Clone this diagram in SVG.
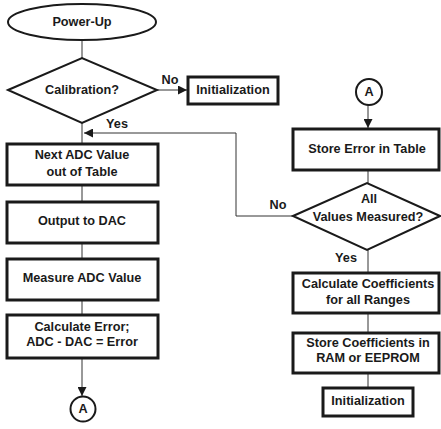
<svg xmlns="http://www.w3.org/2000/svg" width="441" height="429" viewBox="0 0 441 429">
<style>
text{font-family:"Liberation Sans",Arial,sans-serif;font-weight:bold;font-size:12.7px;fill:#1a1a1a;text-anchor:middle}
.box{fill:#fff;stroke:#1a1a1a;stroke-width:3}
.shape{fill:#fff;stroke:#1a1a1a;stroke-width:2}
.line{fill:none;stroke:#333;stroke-width:1}
</style>
<defs>
<marker id="ah" viewBox="0 0 10 10" refX="10" refY="5" markerWidth="9" markerHeight="9" markerUnits="userSpaceOnUse" orient="auto">
<path d="M0,0 L10,5 L0,10 z" fill="#1a1a1a"/>
</marker>
</defs>
<g id="connectors">
<line class="line" x1="82" y1="41" x2="82" y2="58"/>
<line class="line" x1="157" y1="90" x2="187" y2="90" marker-end="url(#ah)"/>
<line class="line" x1="82" y1="123" x2="82" y2="144"/>
<polyline class="line" points="293,216 236,216 236,133 84,133" marker-end="url(#ah)"/>
<line class="line" x1="82" y1="185" x2="82" y2="202"/>
<line class="line" x1="82" y1="243" x2="82" y2="259"/>
<line class="line" x1="82" y1="300" x2="82" y2="315"/>
<line class="line" x1="82" y1="358" x2="82" y2="396" marker-end="url(#ah)"/>
<line class="line" x1="368" y1="105" x2="368" y2="128" marker-end="url(#ah)"/>
<line class="line" x1="368" y1="170" x2="368" y2="183"/>
<line class="line" x1="368" y1="250" x2="368" y2="273"/>
<line class="line" x1="368" y1="313" x2="368" y2="333"/>
<line class="line" x1="368" y1="373" x2="368" y2="388"/>
<text x="170" y="84">No</text>
<text x="117" y="128">Yes</text>
<text x="278" y="209">No</text>
<text x="346" y="262">Yes</text>
</g>
<g id="power-up">
<ellipse class="shape" cx="82" cy="22" rx="74" ry="18"/>
<text x="82" y="26">Power-Up</text>
</g>
<g id="calibration">
<polygon class="shape" points="8,90 82,58 157,90 82,123"/>
<text x="82" y="94">Calibration?</text>
</g>
<g id="init1">
<rect class="box" x="188" y="77" width="90" height="27"/>
<text x="233" y="94">Initialization</text>
</g>
<g id="next-adc">
<rect class="box" x="7" y="144" width="151" height="41"/>
<text x="82" y="159">Next ADC Value</text>
<text x="82" y="176">out of Table</text>
</g>
<g id="output-dac">
<rect class="box" x="7" y="202" width="151" height="41"/>
<text x="82" y="225">Output to DAC</text>
</g>
<g id="measure-adc">
<rect class="box" x="7" y="259" width="151" height="41"/>
<text x="82" y="282">Measure ADC Value</text>
</g>
<g id="calc-error">
<rect class="box" x="7" y="315" width="151" height="43"/>
<text x="82" y="331">Calculate Error;</text>
<text x="82" y="346">ADC - DAC = Error</text>
</g>
<g id="conn-a-out">
<circle class="shape" cx="83" cy="409" r="12.5"/>
<text x="83" y="413">A</text>
</g>
<g id="conn-a-in">
<circle class="shape" cx="369" cy="92" r="13"/>
<text x="369" y="96">A</text>
</g>
<g id="store-error">
<rect class="box" x="293" y="129" width="146" height="41"/>
<text x="367" y="153">Store Error in Table</text>
</g>
<g id="all-measured">
<polygon class="shape" points="293,216 367,183 440,216 367,250"/>
<text x="369" y="203">All</text>
<text x="368" y="221">Values Measured?</text>
</g>
<g id="calc-coeff">
<rect class="box" x="293" y="273" width="146" height="40"/>
<text x="368" y="288">Calculate Coefficients</text>
<text x="368" y="304">for all Ranges</text>
</g>
<g id="store-coeff">
<rect class="box" x="293" y="333" width="146" height="40"/>
<text x="368" y="347">Store Coefficients in</text>
<text x="368" y="362">RAM or EEPROM</text>
</g>
<g id="init2">
<rect class="box" x="323" y="388" width="90" height="28"/>
<text x="368" y="405">Initialization</text>
</g>
</svg>
